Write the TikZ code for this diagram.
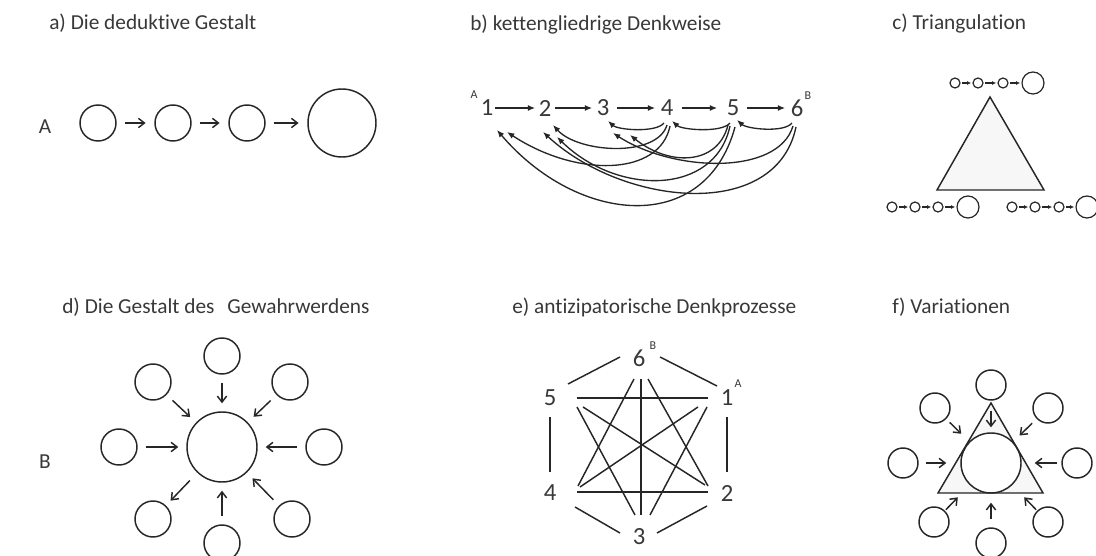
\documentclass[tikz,border=0pt]{standalone}
\usepackage{fontspec}
\setmainfont{Carlito}[Ligatures=NoCommon]
\usetikzlibrary{arrows.meta}
\definecolor{ink}{gray}{0.15}
\definecolor{txt}{gray}{0.22}
\definecolor{trifill}{gray}{0.97}
\begin{document}
\begin{tikzpicture}[x=0.75pt,y=-0.75pt,
  font=\fontsize{16}{19}\selectfont, text=txt,
  title/.style={anchor=base west, inner sep=0pt},
  num/.style={inner sep=1pt, font=\fontsize{18.5}{20}\selectfont},
  supl/.style={inner sep=0pt, font=\fontsize{9}{10}\selectfont},
  circ/.style={circle, draw=ink, line width=1.1pt, fill=white, inner sep=0pt},
  tinycirc/.style={circle, draw=ink, line width=0.9pt, fill=white, inner sep=0pt},
  barb/.style={draw=ink, line width=1.1pt, -{Straight Barb[length=4.5pt,width=7pt,line width=1.1pt]}},
  latexarrow/.style={draw=ink, line width=1pt, -{Latex[length=5.5pt,width=4.5pt]}},
  tinyarrow/.style={draw=ink, line width=0.8pt, -{Latex[length=3pt,width=3pt]}, shorten <=1pt, shorten >=1pt},
  edge/.style={draw=ink, line width=1.1pt},
  tri/.style={draw=ink, line width=1.1pt, line join=miter}]
\useasboundingbox (0,0) rectangle (1096,556);

% ---------- titles and row labels ----------
\node[title] (ta) at (49,30) {a) Die deduktive Gestalt};
\node[title] (tb) at (470,31) {b) kettengliedrige Denkweise};
\node[title] (tc) at (892,30) {c) Triangulation};
\node[title] (td) at (62,313) {d) Die Gestalt des\hspace{0.6em}Gewahrwerdens};
\node[title] (te) at (512,313) {e) antizipatorische Denkprozesse};
\node[title] (tf) at (892,313) {f) Variationen};
\node (rowA) at (45,127) {A};
\node (rowB) at (45,462) {B};

% ---------- a) ----------
\node[circ, minimum size=27pt] (a1) at (98,123) {};
\node[circ, minimum size=27pt] (a2) at (173,123) {};
\node[circ, minimum size=27pt] (a3) at (247,123) {};
\node[circ, minimum size=51pt] (a4) at (342,123) {};
\foreach \s/\t in {a1/a2,a2/a3,a3/a4}
  \draw[barb, shorten <=6pt, shorten >=6.5pt] (\s) -- (\t);

% ---------- b) ----------
\node[num] (b1) at (487,108) {1};
\node[num] (b2) at (545,108) {2};
\node[num] (b3) at (603,108) {3};
\node[num] (b4) at (667,108) {4};
\node[num] (b5) at (733,108) {5};
\node[num] (b6) at (797,108) {6};
\node[supl] (bA) at (474,95) {A};
\node[supl] (bB) at (808,96) {B};
\draw[latexarrow, shorten <=0pt, shorten >=1.5pt] (b1) -- (b2);
\draw[latexarrow, shorten <=1.5pt, shorten >=2.25pt] (b2) -- (b3);
\draw[latexarrow, shorten <=4.5pt, shorten >=3pt] (b3) -- (b4);
\draw[latexarrow, shorten <=5.25pt, shorten >=6pt] (b4) -- (b5);
\draw[latexarrow, shorten <=4.5pt, shorten >=3pt] (b5) -- (b6);
% backward arcs
\draw[latexarrow] ([shift={(-3,15)}]b4.center) .. controls +(-8,10) and +(10,9) .. ([shift={(5,13)}]b3.center);
\draw[latexarrow] ([shift={(-3,15)}]b5.center) .. controls +(-8,10) and +(10,9) .. ([shift={(5,13)}]b4.center);
\draw[latexarrow] ([shift={(-5,15)}]b6.center) .. controls +(-8,10) and +(10,9) .. ([shift={(4,12)}]b5.center);
\draw[latexarrow] ([shift={(0,17)}]b4.center) .. controls +(-10,33) and +(25,28) .. ([shift={(8,17)}]b2.center);
\draw[latexarrow] ([shift={(3,18)}]b4.center) .. controls +(-10,50) and +(70,46) .. ([shift={(20,24)}]b1.center);
\draw[latexarrow] ([shift={(2,19)}]b5.center) .. controls +(-30,110) and +(80,94) .. ([shift={(10,22)}]b1.center);
\draw[latexarrow] ([shift={(-3,18)}]b5.center) .. controls +(-15,70) and +(60,59) .. ([shift={(12,29)}]b2.center);
\draw[latexarrow] ([shift={(-5,17)}]b5.center) .. controls +(-10,40) and +(40,32) .. ([shift={(27,27)}]b3.center);
\draw[latexarrow] ([shift={(-4,18)}]b6.center) .. controls +(-15,50) and +(60,39) .. ([shift={(10,25)}]b3.center);
\draw[latexarrow] ([shift={(-1,19)}]b6.center) .. controls +(-20,95) and +(80,74) .. ([shift={(-2,24)}]b2.center);

% ---------- c) ----------
\draw[tri, fill=trifill] (990,97) -- (937,190) -- (1044,190) -- cycle;
\foreach \p/\y/\xa/\xb/\xc/\xd in {t/83/955/978/1003/1033, l/207/892/915/938/968, r/207/1012/1035/1059/1087}{
  \node[tinycirc, minimum size=7.5pt] (c\p1) at (\xa,\y) {};
  \node[tinycirc, minimum size=7.5pt] (c\p2) at (\xb,\y) {};
  \node[tinycirc, minimum size=7.5pt] (c\p3) at (\xc,\y) {};
  \node[tinycirc, minimum size=16.5pt] (c\p4) at (\xd,\y) {};
  \draw[tinyarrow] (c\p1) -- (c\p2);
  \draw[tinyarrow] (c\p2) -- (c\p3);
  \draw[tinyarrow] (c\p3) -- (c\p4);
}

% ---------- d) ----------
\node[circ, minimum size=52.5pt] (dc) at (222,447) {};
\node[circ, minimum size=27pt] (dt) at (222,356) {};
\node[circ, minimum size=27pt] (dul) at (153,382) {};
\node[circ, minimum size=27pt] (dur) at (290,382) {};
\node[circ, minimum size=27pt] (dl) at (119,447) {};
\node[circ, minimum size=27pt] (dr) at (324,447) {};
\node[circ, minimum size=27pt] (dll) at (153,519) {};
\node[circ, minimum size=27pt] (dlr) at (292,519) {};
\node[circ, minimum size=27pt] (db) at (222,543) {};
\foreach \s in {dt,dul,dur,dl,dr,dlr,db}
  \draw[barb, shorten <=6pt, shorten >=6pt] (\s) -- (dc);
\draw[barb, shorten <=8pt, shorten >=5pt] (dc) -- (dll);

% ---------- e) ----------
\node[num] (e1) at (727,398) {1};
\node[num] (e2) at (727,493) {2};
\node[num] (e3) at (639,537) {3};
\node[num] (e4) at (550,493) {4};
\node[num] (e5) at (550,398) {5};
\node[num] (e6) at (639,358) {6};
\node[supl] (eB) at (653,346) {B};
\node[supl] (eA) at (738,384) {A};
\draw[edge] ([shift={(21,-1)}]e6.center) -- ([shift={(-10,-12)}]e1.center);
\draw[edge] ([shift={(18,-14)}]e5.center) -- ([shift={(-19,-1)}]e6.center);
\draw[edge] ([shift={(0,19)}]e5.center) -- ([shift={(0,-21)}]e4.center);
\draw[edge] ([shift={(0,19)}]e1.center) -- ([shift={(0,-21)}]e2.center);
\draw[edge] ([shift={(25,14)}]e4.center) -- ([shift={(-19,-4)}]e3.center);
\draw[edge] ([shift={(18,-4)}]e3.center) -- ([shift={(-20,13)}]e2.center);
\draw[edge] ([shift={(27,0)}]e5.center) -- ([shift={(-19,0)}]e1.center);
\draw[edge] ([shift={(27,-1)}]e4.center) -- ([shift={(-19,-1)}]e2.center);
\draw[edge] ([shift={(2,21)}]e6.center) -- ([shift={(2,-22)}]e3.center);
\draw[edge] ([shift={(-5,21)}]e6.center) -- ([shift={(28,-7)}]e4.center);
\draw[edge] ([shift={(9,21)}]e6.center) -- ([shift={(-19,-7)}]e2.center);
\draw[edge] ([shift={(27,9)}]e5.center) -- ([shift={(-4,-22)}]e3.center);
\draw[edge] ([shift={(-20,9)}]e1.center) -- ([shift={(11,-22)}]e3.center);
\draw[edge] ([shift={(33,9)}]e5.center) -- ([shift={(-22,-8)}]e2.center);
\draw[edge] ([shift={(-29,9)}]e1.center) -- ([shift={(30,-6)}]e4.center);

% ---------- f) ----------
\fill[trifill] (991,403) -- (938,493) -- (1043,493) -- cycle;
\node[circ, minimum size=45pt] (fc) at (991,463) {};
\draw[tri] (991,403) -- (938,493) -- (1043,493) -- cycle;
\node[circ, minimum size=22.5pt] (ft) at (991,385) {};
\node[circ, minimum size=22.5pt] (ful) at (935,408) {};
\node[circ, minimum size=22.5pt] (fur) at (1048,408) {};
\node[circ, minimum size=22.5pt] (fl) at (903,463) {};
\node[circ, minimum size=22.5pt] (fr) at (1077,463) {};
\node[circ, minimum size=22.5pt] (fll) at (934,522) {};
\node[circ, minimum size=22.5pt] (flr) at (1048,522) {};
\node[circ, minimum size=22.5pt] (fb) at (991,543) {};
\draw[barb, shorten <=7.5pt, shorten >=3.75pt] (ft) -- (fc);
\draw[barb, shorten <=3.6pt, shorten >=8.25pt] (ful) -- (fc);
\draw[barb, shorten <=4.65pt, shorten >=6.7pt] (fur) -- (fc);
\draw[barb, shorten <=5.25pt, shorten >=10.5pt] (fl) -- (fc);
\draw[barb, shorten <=3pt, shorten >=9.75pt] (fr) -- (fc);
\draw[barb, shorten <=1pt, shorten >=12.75pt] (fll) -- (fc);
\draw[barb, shorten <=6pt, shorten >=6.75pt] (fb) -- (fc);
\draw[barb, shorten <=1pt, shorten >=12.75pt] (flr) -- (fc);
\end{tikzpicture}
\end{document}
